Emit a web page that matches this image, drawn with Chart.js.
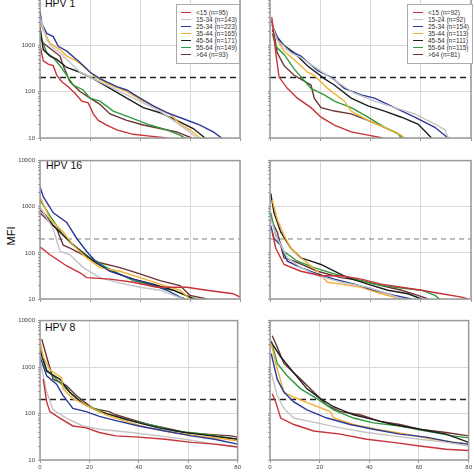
<html>
<head>
<script src="https://cdn.jsdelivr.net/npm/chart.js@4.4.0/dist/chart.umd.min.js"></script>
<style>
  body { margin:0; width:474px; height:474px; overflow:hidden; background:#fff; font-family:"Liberation Sans", Arial, sans-serif; position:relative; }
  canvas { position:absolute; }
  .hpv { position:absolute; font-size:10.5px; color:#111; }
  .legend { position:absolute; background:#fff; border:1px solid #aaa; font-size:6.5px; color:#333; }
  .row { position:absolute; left:0; height:7px; line-height:7px; white-space:nowrap; }
  .row span.ln { position:absolute; top:3px; width:10px; height:1px; }
  .row span.tx { position:absolute; left:15px; top:0; }
</style>
</head>
<body>
<div class="hpv" style="left:45px; top:-3px;">HPV 1</div>
<div class="hpv" style="left:46px; top:159px;">HPV 16</div>
<div class="hpv" style="left:45px; top:321px;">HPV 8</div>
<div style="position:absolute; left:-4px; top:230px; width:30px; text-align:center; font-size:11px; transform:rotate(-90deg);">MFI</div>
<div id="legL" class="legend" style="left:176px; top:4px; width:62px; height:58px;"></div>
<div id="legR" class="legend" style="left:407px; top:4px; width:64px; height:58px;"></div>

<script>
// groups and sample sizes
var ageLeft = ['<15', '15-34', '25-34', '35-44', '45-54', '55-64', '>64'];
var ageRight = ['<15', '15-24', '25-34', '35-44', '45-54', '55-64', '>64'];
var nLeft = [95, 143, 223, 165, 171, 149, 93];
var nRight = [92, 92, 154, 113, 111, 115, 81];
var colors = ['#c8323a', '#c4c4c4', '#2b3a97', '#f2b134', '#1e1e1e', '#2e9a3c', '#6e3434'];
var xTicks = [0, 20, 40, 60, 80];
var yTicks = [10, 100, 1000, 10000];
var cutoff = 200;

// each panel: series in order <15, 15-24, 25-34, 35-44, 45-54, 55-64, >64 ; points [rank, MFI]
var hpv1Left = [
  [[0,1000],[1.3,457],[3.3,390],[5.3,360],[6.7,224],[8.7,162],[11.3,127],[14,92],[16.7,62],[19.3,57],[21.3,33],[23.3,24],[26.7,19],[30.7,15],[37.3,12],[44,11],[50.7,10]],
  [[0,4000],[2.7,1300],[5,900],[8,680],[10.7,490],[16,260],[21.3,190],[26.7,138],[34.7,85],[41.3,57],[48,38],[53.3,24],[58.7,15],[62.7,10]],
  [[0,5500],[0.7,2900],[2.7,1780],[5.3,1520],[7.3,940],[10.7,740],[16,420],[20,260],[24,190],[30.7,127],[34.7,108],[40,72],[45.3,49],[50.7,35],[57.3,26],[64,19],[69.3,13.5],[72.7,10]],
  [[0,2900],[4,1100],[8,800],[10.7,580],[14.7,457],[18.7,308],[22,205],[26.7,149],[34.7,100],[41.3,62],[46.7,45],[52,33],[56,20],[60,15],[64,10]],
  [[0,2450],[1.3,800],[4,580],[6.7,490],[10.7,330],[16,260],[21.3,190],[28,117],[34.7,72],[41.3,45],[48,35],[54.7,24],[61.3,16],[66,10]],
  [[0,2450],[0.7,1290],[2.7,680],[5.3,537],[8,360],[10.7,224],[13.3,138],[17.3,108],[20,72],[24,62],[29.3,38],[37.3,26],[44,19],[50.7,15],[56,11.5],[58,10]],
  [[0,1500],[1.3,1100],[8,580],[9.3,360],[12,162],[16,100],[20,72],[24,53],[28,33],[34.7,24],[41.3,19],[48,16],[54.7,13.5],[60.7,10]]
];
var hpv1Right = [
  [[0.7,4000],[2.3,680],[3.6,205],[6.9,117],[10.9,72],[16.3,45],[20.3,28],[25.6,19],[32.3,13.5],[39,11.5],[45,10]],
  [[0.5,3000],[2.9,1290],[8.3,680],[12.3,537],[19,308],[25.6,175],[33.6,92],[41.6,62],[49.6,45],[57.6,33],[65.6,20],[69.6,15],[71,10]],
  [[0.5,2900],[2.9,1500],[6.9,800],[12.3,580],[19,280],[24.3,205],[29.6,117],[36.3,85],[41.6,72],[49.6,45],[57.6,28],[65.6,17],[70.9,10]],
  [[0.9,2900],[2.9,1290],[5.6,740],[12.3,360],[14.9,260],[17.6,224],[22.9,117],[29.6,62],[32.3,38],[39,24],[45.6,17],[50.9,12.5],[53.6,10]],
  [[0.9,2100],[4.3,1100],[9.6,680],[14.9,360],[21.6,190],[25.6,138],[32.3,72],[39,49],[45.6,38],[52.3,28],[58.9,20],[64.3,10]],
  [[0.9,1780],[2.3,940],[5.6,630],[9.6,308],[16.3,117],[21.6,85],[25.6,62],[32.3,45],[39,28],[45.6,17],[50.9,12.5],[52.3,10]],
  [[0.7,3400],[2.9,680],[5.6,360],[9.6,224],[16.3,138],[17.6,72],[20.3,45],[25.6,38],[32.3,33],[39,24],[45.6,17],[50.9,12.5],[53.6,10]]
];
var hpv16Left = [
  [[0,135],[4,91],[10.7,52],[16,37],[18.7,29],[28,27],[37.3,23],[46.7,18],[58.7,18],[66.7,15.5],[77.3,13],[80,11]],
  [[0.3,940],[5.3,330],[8,107],[12,91],[17.3,48],[24,29],[30.7,23],[40,18],[48,15.5],[57.3,10]],
  [[0,2700],[1.3,1650],[5.3,740],[10.7,457],[14.7,205],[18.7,107],[22.7,61],[28,40],[37.3,27],[44,21],[50.7,15.5],[56,11],[58,10]],
  [[0,1650],[4,537],[9.3,280],[13.3,147],[18.7,78],[24,48],[32,40],[40,29],[48,21],[56,15.5],[60,10]],
  [[0,870],[2,680],[5.3,390],[9.3,240],[12,174],[17.3,98],[21.3,66],[28,40],[37.3,27],[45.3,21],[53.3,15.5],[60,11],[61.3,10]],
  [[0,1400],[4,630],[9.3,240],[13.3,147],[20,78],[26.7,48],[37.3,25],[45.3,19.6],[53.3,15.5],[60,11],[62.7,10]],
  [[0,740],[2.7,537],[6.7,330],[9.3,147],[12,126],[17.3,91],[24,61],[32,48],[40,35],[48,25],[56,19.6],[60,12],[66.7,10]]
];
var hpv16Right = [
  [[0.9,280],[2.3,126],[5.6,56],[12.3,40],[20.3,32],[28.3,32],[36.3,27],[44.3,21],[52.3,18],[60.3,15.5],[68.3,13],[76.3,11],[78.9,10]],
  [[0.3,537],[2.9,205],[6.9,78],[12.3,48],[18.9,32],[28.3,23],[38.9,18],[46.9,13],[52.3,10]],
  [[0.3,390],[1.6,205],[4.3,147],[6.9,66],[12.3,48],[18.9,35],[25.6,27],[33.6,21],[41.6,15.5],[49.6,12],[56.3,10]],
  [[0.9,1400],[2.9,537],[5.6,240],[8.3,126],[12.3,78],[18.9,40],[22.9,23],[28.3,21],[36.3,18],[44.3,13],[52.3,10]],
  [[0.3,1950],[1.6,740],[4.3,280],[8.3,126],[12.3,78],[16.3,66],[20.3,56],[25.6,40],[30.9,29],[38.9,21],[46.9,15.5],[54.9,13],[60.3,10]],
  [[0.3,740],[2.3,240],[5.6,107],[10.9,66],[17.6,48],[25.6,35],[33.6,27],[41.6,21],[49.6,18],[60.3,15.5],[65.6,12],[67.6,10]],
  [[0.3,537],[2.9,280],[5.6,78],[9.6,66],[18.9,40],[28.3,29],[36.3,25],[44.3,19.6],[52.3,15.5],[58.9,12],[62.9,10]]
];
var hpv8Left = [
  [[1.3,550],[2.7,178],[4,110],[8,80],[13.3,54],[18.7,49],[24,39],[30.7,33],[40,31],[50.7,28],[61.3,24],[70.7,22],[80,19]],
  [[0.3,1200],[2.7,290],[5.3,120],[10.7,80],[17.3,54],[24,46],[37.3,39],[48,33],[58.7,28],[70.7,22],[80,19]],
  [[0,1670],[2.7,650],[6.7,430],[9.3,245],[13.3,129],[18.7,110],[24,87],[32,68],[40,54],[50.7,42],[61.3,33],[70.7,28],[80,22]],
  [[0,3700],[1.3,1670],[4,870],[8.7,590],[9.3,340],[13.3,210],[18.7,151],[26.7,94],[34.7,68],[44,49],[53.3,39],[64,33],[80,26]],
  [[0,2300],[2.7,810],[8,550],[12,290],[17.3,165],[24,110],[30.7,87],[40,63],[48,49],[58.7,39],[69.3,33],[80,28]],
  [[0,2700],[2.7,870],[8,465],[13.3,245],[18.7,151],[26.7,102],[34.7,74],[44,58],[54.7,42],[66.7,36],[80,28]],
  [[0.7,4000],[2.7,1670],[5.3,550],[10.7,400],[14.7,245],[21.3,129],[28,110],[30.7,94],[37.3,74],[44,58],[50.7,49],[58.7,39],[66.7,36],[77.3,33],[80,31]]
];
var hpv8Right = [
  [[0.9,265],[2.3,178],[4.3,80],[9.6,58],[17.6,42],[28.3,36],[38.9,28],[49.6,24],[60.3,20],[70.9,17],[80,16]],
  [[0.5,750],[2.9,245],[5.6,129],[9.6,80],[18.9,63],[28.3,49],[38.9,39],[49.6,33],[60.3,28],[70.9,24],[80,20]],
  [[0.5,1950],[2.9,550],[5.6,290],[9.6,178],[14.9,120],[22.9,80],[32.3,58],[41.6,46],[52.3,36],[62.9,31],[73.6,24],[80,22]],
  [[0.5,3200],[2.3,1200],[5.6,290],[9.6,224],[17.6,151],[24.3,110],[25.6,80],[33.6,58],[42.9,46],[55,36],[65.6,28],[80,22]],
  [[0.5,3400],[4.3,1670],[9.6,750],[14.9,340],[20.3,210],[25.6,140],[33.6,94],[41.6,74],[49.6,58],[60.3,46],[70.9,36],[80,24]],
  [[0.5,3700],[2.9,1200],[6.9,650],[12.3,340],[18.9,210],[25.6,120],[33.6,80],[41.6,63],[52.3,54],[62.9,42],[73.6,33],[80,30]],
  [[0.9,4700],[2.9,2700],[5.6,1200],[12.3,550],[17.6,290],[22.9,151],[28.3,110],[36.3,94],[44.3,68],[52.3,58],[60.3,46],[70.9,39],[80,33]]
];

function isDecade(v) { return yTicks.indexOf(v) >= 0; }

// draws the grey frame round the plot area
var framePlugin = {
  id: 'frame',
  afterDraw: function (chart) {
    var a = chart.chartArea, c = chart.ctx;
    c.save();
    c.strokeStyle = '#9a9a9a';
    c.lineWidth = 1.5;
    c.strokeRect(a.left, a.top, a.right - a.left, a.bottom - a.top);
    c.restore();
  }
};

function makePanel(series, o) {
  var cv = document.createElement('canvas');
  cv.width = o.w; cv.height = o.h;
  cv.style.left = o.left + 'px'; cv.style.top = o.top + 'px';
  document.body.insertBefore(cv, document.getElementById('legL'));

  var ds = series.map(function (pts, i) {
    return {
      data: pts.map(function (p) { return { x: p[0], y: p[1] }; }),
      borderColor: colors[i], borderWidth: 1.4, pointRadius: 0, tension: 0, fill: false
    };
  });
  ds.push({
    data: [{ x: 0, y: cutoff }, { x: 80, y: cutoff }],
    borderColor: o.dashColor, borderWidth: o.dashWidth, borderDash: o.dash,
    pointRadius: 0, fill: false
  });

  new Chart(cv.getContext('2d'), {
    type: 'line',
    data: { datasets: ds },
    options: {
      responsive: false, animation: false,
      layout: { padding: { top: 2, right: 2, left: 0, bottom: 0 } },
      plugins: { legend: { display: false }, tooltip: { enabled: false } },
      scales: {
        x: {
          type: 'linear', min: 0, max: 80,
          afterBuildTicks: function (s) { s.ticks = xTicks.map(function (v) { return { value: v }; }); },
          afterFit: function (s) { s.height = o.xh; },
          border: { display: false },
          grid: { color: '#d9d9d9', lineWidth: 1, tickLength: 3, tickColor: '#999' },
          ticks: { display: o.xLabels, font: { size: 6, family: 'Liberation Sans' }, color: '#444', padding: 1, maxRotation: 0 }
        },
        y: {
          type: 'logarithmic', min: 10, max: 10000,
          afterBuildTicks: function (s) {
            var t = [];
            for (var d = 10; d < 10000; d *= 10) {
              for (var k = 1; k < 10; k++) t.push({ value: d * k, major: k === 1 });
            }
            t.push({ value: 10000, major: true });
            s.ticks = t;
          },
          afterFit: function (s) { s.width = o.yw; },
          border: { display: false },
          grid: {
            color: function (c) { return c.tick && isDecade(c.tick.value) ? '#d9d9d9' : 'rgba(0,0,0,0)'; },
            tickColor: '#999', tickLength: 2, lineWidth: 1
          },
          ticks: {
            autoSkip: false,
            font: { size: 6, family: 'Liberation Sans' }, color: '#444', padding: 3,
            callback: function (v) { return o.yLabels && isDecade(v) ? String(v) : ''; }
          }
        }
      }
    },
    plugins: [framePlugin]
  });
}

var rows = [
  { top: -8, h: 156, xh: 10, xLabels: false, dashColor: '#222', dashWidth: 1.5, dash: [6, 4], data: [hpv1Left, hpv1Right] },
  { top: 154, h: 155, xh: 10, xLabels: false, dashColor: '#7a7a7a', dashWidth: 1, dash: [5, 4], data: [hpv16Left, hpv16Right] },
  { top: 314, h: 160, xh: 14, xLabels: true, dashColor: '#222', dashWidth: 1.5, dash: [6, 4], data: [hpv8Left, hpv8Right] }
];
rows.forEach(function (r) {
  makePanel(r.data[0], { left: 0, top: r.top, w: 242, h: r.h, yw: 40, xh: r.xh, xLabels: r.xLabels, yLabels: true, dashColor: r.dashColor, dashWidth: r.dashWidth, dash: r.dash });
  makePanel(r.data[1], { left: 245, top: r.top, w: 228, h: r.h, yw: 25, xh: r.xh, xLabels: r.xLabels, yLabels: false, dashColor: r.dashColor, dashWidth: r.dashWidth, dash: r.dash });
});

// legends
function fillLegend(id, ages, ns, lineLeft) {
  var box = document.getElementById(id);
  ages.forEach(function (a, i) {
    var row = document.createElement('div');
    row.className = 'row';
    row.style.top = (4 + i * 7) + 'px';
    row.style.left = lineLeft + 'px';
    row.innerHTML = '<span class="ln" style="background:' + colors[i] + '"></span><span class="tx"></span>';
    row.querySelector('.tx').textContent = a + ' (n=' + ns[i] + ')';
    box.appendChild(row);
  });
}
fillLegend('legL', ageLeft, nLeft, 4);
fillLegend('legR', ageRight, nRight, 5);
</script>
</body>
</html>
